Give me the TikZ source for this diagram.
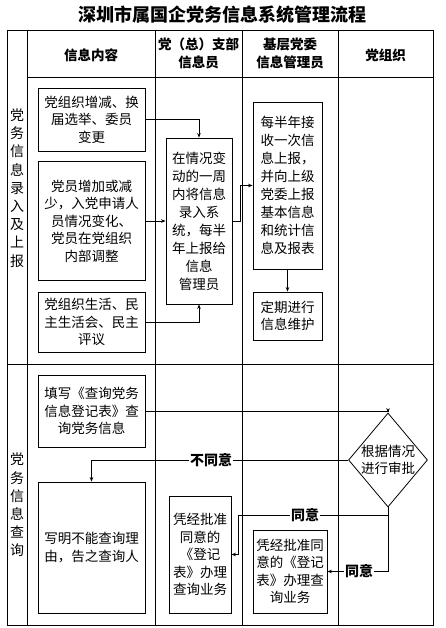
\documentclass[tikz,border=0pt]{standalone}
\usepackage{fontspec}
\newfontfamily\cjk{Noto Sans CJK SC}
\usetikzlibrary{shapes.geometric,arrows.meta}
\begin{document}
\begin{tikzpicture}[x=1pt,y=-1pt,
  grid/.style={line width=1pt},
  box/.style={draw, line width=0.8pt, inner sep=0pt, align=center, font=\cjk\fontsize{13.5}{17.5}\selectfont},
  arr/.style={-{Stealth[length=4.5pt,width=3.5pt]}, line width=0.8pt},
  lbl/.style={fill=white, inner sep=1pt, font=\cjk\bfseries\fontsize{14}{16}\selectfont},
  head/.style={align=center, font=\cjk\bfseries\fontsize{13.5}{18}\selectfont},
  side/.style={align=center, font=\cjk\fontsize{14}{18.2}\selectfont}]
\useasboundingbox (0,0) rectangle (445,628);
\fill[white] (0,0) rectangle (445,628);
% title
\node[font=\cjk\bfseries\fontsize{18}{20}\selectfont] (title) at (222,15) {深圳市属国企党务信息系统管理流程};
% table
\draw[grid] (7,31) rectangle (433,625);
\draw[grid] (27,31) -- (27,625);
\draw[grid] (155,31) -- (155,625);
\draw[grid] (242,31) -- (242,625);
\draw[grid] (338,31) -- (338,625);
\draw[grid] (27,78) -- (433,78);
\draw[grid] (7,364) -- (433,364);
% headers
\node[head] (h1) at (91,55) {信息内容};
\node[head] (h2) at (198.5,53) {党（总）支部\\信息员};
\node[head] (h3) at (290,53) {基层党委\\信息管理员};
\node[head] (h4) at (385.5,55) {党组织};
% side labels
\node[side] (s1) at (17,188) {党\\务\\信\\息\\录\\入\\及\\上\\报};
\node[side] (s2) at (17,505) {党\\务\\信\\息\\查\\询};
% section 1
\node[box, minimum width=107pt, minimum height=63pt] (A) at (91.5,119.5) {党组织增减、换\\届选举、委员\\变更};
\node[box, minimum width=107pt, minimum height=119pt] (B) at (91.5,221) {党员增加或减\\少，入党申请人\\员情况变化、\\党员在党组织\\内部调整};
\node[box, minimum width=107pt, minimum height=60pt] (C) at (91.5,322) {党组织生活、民\\主生活会、民主\\评议};
\node[box, minimum width=66pt, minimum height=166pt, font=\cjk\fontsize{13.5}{18}\selectfont] (D) at (199,221) {在情况变\\动的一周\\内将信息\\录入系\\统，每半\\年上报给\\信息\\管理员};
\node[box, minimum width=69pt, minimum height=167pt, font=\cjk\fontsize{13.5}{18}\selectfont] (E) at (287.5,185.5) {每半年接\\收一次信\\息上报，\\并向上级\\党委上报\\基本信息\\和统计信\\息及报表};
\node[box, minimum width=69pt, minimum height=48pt] (F) at (287.5,316) {定期进行\\信息维护};
\draw[arr] (A.east) -| (D.north);
\draw[arr] (B.east) -- (D.west);
\draw[arr] (C.east) -| (D.south);
\draw[arr] (D.east) -- ++(8,0) |- (E.west);
\draw[arr] (E.south) -- (F.north);
% section 2
\node[box, minimum width=107pt, minimum height=72pt] (G) at (91.5,411) {填写《查询党务\\信息登记表》查\\询党务信息};
\node[box, minimum width=107pt, minimum height=131pt] (H) at (91.5,547.5) {写明不能查询理\\由，告之查询人};
\node[box, minimum width=62pt, minimum height=117pt] (I) at (200,554.5) {凭经批准\\同意的\\《登记\\表》办理\\查询业务};
\node[box, minimum width=74pt, minimum height=83pt] (J) at (290,571.5) {凭经批准同\\意的《登记\\表》办理查\\询业务};
\node[draw, diamond, line width=0.8pt, minimum width=79pt, minimum height=94pt, inner sep=0pt,
  label={[align=center, font=\cjk\fontsize{13.5}{17.5}\selectfont]center:根据情况\\进行审批}] (Dm) at (388,460) {};
\coordinate (t1) at (238,515);
\draw[arr] (G.east) -| (Dm.north);
\draw[arr] (Dm.west) -| (H.north);
\node[lbl] (n1) at (211,460) {不同意};
\draw[arr] (Dm.south) |- (t1) |- (I.east);
\node[lbl] (n2) at (305,515) {同意};
\draw[arr] (Dm.south) |- (J.east);
\node[lbl] (n3) at (359,571) {同意};
\end{tikzpicture}
\end{document}
